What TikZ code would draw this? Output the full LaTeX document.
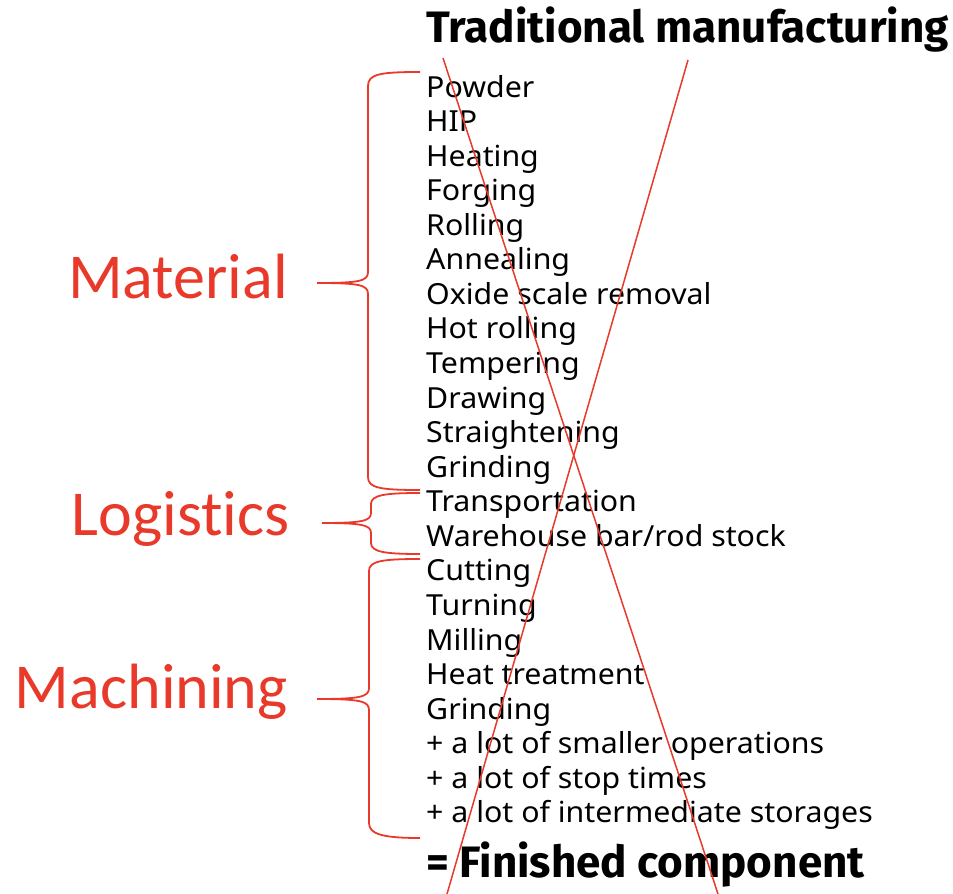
\documentclass[tikz,border=0pt]{standalone}
\usepackage{fontspec}
\setmainfont{Noto Sans}[FakeStretch=1.045]
\newfontfamily\headfont{Fira Sans}
\newfontfamily\labelfont[Ligatures=NoCommon]{Carlito}
\definecolor{accent}{HTML}{E8392A}
\begin{document}
\begin{tikzpicture}[x=1pt,y=-1pt,
  item/.style={anchor=base west,inner sep=0pt,font=\fontsize{29}{29}\selectfont},
  headline/.style={anchor=base west,inner sep=0pt,font=\headfont\fontsize{44}{44}\selectfont\bfseries},
  group/.style={anchor=base east,inner sep=0pt,text=accent,font=\labelfont\fontsize{64}{64}\selectfont},
  bracket/.style={draw=accent,line width=1.8pt},
  strike/.style={draw=accent,line width=1.5pt}]
\useasboundingbox (0,0) rectangle (953,894);

\node[headline] (title) at (426,42) {Traditional manufacturing};

% process steps, one per line
\foreach \txt [count=\i from 0] in {Powder,HIP,Heating,Forging,Rolling,Annealing,
  Oxide scale removal,Hot rolling,Tempering,Drawing,Straightening,Grinding,
  Transportation,Warehouse bar/rod stock,Cutting,Turning,Milling,Heat treatment,
  Grinding,+ a lot of smaller operations,+ a lot of stop times,
  + a lot of intermediate storages}
  \node[item] (s\i) at (426,{97+34.57*\i}) {\txt};

\node[headline] (result) at (426,877) {= Finished component};

% group labels
\node[group] (material) at (288,298) {Material};
\node[group] (logistics) at (290,535) {Logistics};
\node[group] (machining) at (288,708) {Machining};

% braces
\draw[bracket] (420,72) .. controls (380,72) and (368,74) .. (368,86)
  -- (368,272) .. controls (368,281) and (360,283) .. (317,283)
  .. controls (360,283) and (368,285) .. (368,294)
  -- (368,477) .. controls (368,488) and (380,490) .. (420,490);
\draw[bracket] (420,493) .. controls (385,493) and (371,495) .. (371,504)
  -- (371,513) .. controls (371,521) and (362,523) .. (322,523)
  .. controls (362,523) and (371,525) .. (371,533)
  -- (371,543) .. controls (371,552) and (385,554) .. (420,554);
\draw[bracket] (420,559) .. controls (382,559) and (369,561) .. (369,571)
  -- (369,688) .. controls (369,697) and (360,699) .. (317,699)
  .. controls (360,699) and (369,701) .. (369,710)
  -- (369,823) .. controls (369,834) and (382,838) .. (420,838);

% crossing-out strokes
\coordinate (a1) at (443,58);
\coordinate (a2) at (718,894);
\coordinate (b1) at (688,60);
\coordinate (b2) at (447,894);
\draw[strike] (a1) -- (a2);
\draw[strike] (b1) -- (b2);
\end{tikzpicture}
\end{document}
